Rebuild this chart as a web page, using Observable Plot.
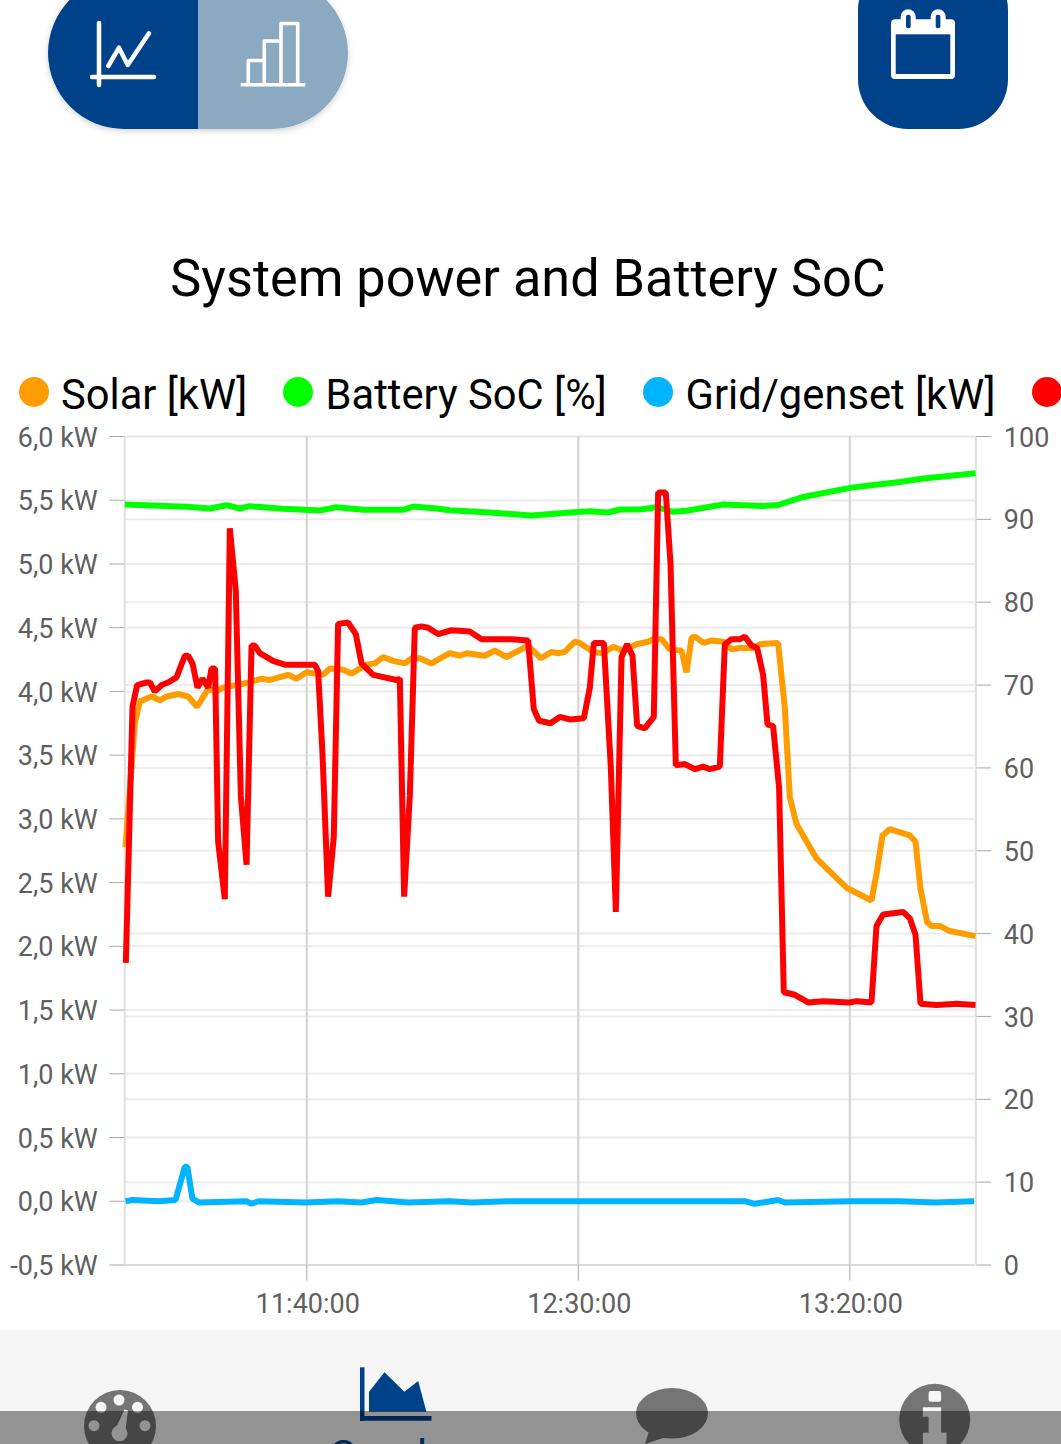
<!DOCTYPE html>
<html>
<head>
<meta charset="utf-8">
<script src="https://cdn.jsdelivr.net/npm/d3@7"></script>
<script src="https://cdn.jsdelivr.net/npm/@observablehq/plot@0.6"></script>
<style>
html,body{margin:0;padding:0;background:#fff;width:1061px;height:1444px;overflow:hidden}
#page{position:relative;width:1061px;height:1444px;overflow:hidden;font-family:Roboto,sans-serif}
#title{position:absolute;left:0;width:1056px;top:249px;text-align:center;font-size:52.2px;line-height:60px;color:#000}
.lg{position:absolute;top:370px;font-size:41.7px;line-height:50px;color:#000;white-space:nowrap}
.dot{position:absolute;top:377px;width:30px;height:30px;border-radius:50%}
#chart{position:absolute;left:0;top:420px}
#nav{position:absolute;left:0;top:1330px;width:1061px;height:114px;background:#f6f6f6}
#ui{position:absolute;left:0;top:0}
#scrim{position:absolute;left:0;top:1411px;width:1061px;height:33px;background:rgba(0,0,0,.4)}
</style>
</head>
<body>
<div id="page">
  <div id="nav"></div>
  <svg id="ui" width="1061" height="1444" viewBox="0 0 1061 1444">
    <defs>
      <filter id="sh" x="-10%" y="-10%" width="120%" height="125%"><feDropShadow dx="0" dy="2" stdDeviation="3" flood-color="#000" flood-opacity=".18"/></filter>
      <clipPath id="pl"><rect x="48" y="-23" width="150" height="152"/></clipPath>
      <clipPath id="pr"><rect x="198" y="-23" width="150" height="152"/></clipPath>
    </defs>
    <rect x="48" y="-23" width="300" height="152" rx="76" fill="#fff" filter="url(#sh)"/>
    <rect x="48" y="-23" width="300" height="152" rx="76" fill="#00428a" clip-path="url(#pl)"/>
    <rect x="48" y="-23" width="300" height="152" rx="76" fill="#8ba9c1" clip-path="url(#pr)"/>
    <g fill="none" stroke="#fff" stroke-width="4.5" stroke-linecap="round" stroke-linejoin="round">
      <path d="M99 23V85M92 77H154"/>
      <path d="M108.3 66L119 47.7L127.7 65L149 33.3"/>
    </g>
    <g fill="none" stroke="#fff" stroke-width="3.6">
      <path d="M240.7 84.7H305.3"/>
      <path d="M248.3 84.7V60.5H264.3V84.7M264.3 60.5V41H281V84.7M281 41V23.5H297.7V84.7" stroke-linejoin="round"/>
    </g>
    <rect x="858" y="-40" width="150" height="169" rx="50" fill="#00428a"/>
    <g fill="#fff">
      <rect x="891" y="19.3" width="64" height="59.7" rx="4"/>
      <rect x="900.7" y="9.3" width="15" height="20" rx="7.5"/>
      <rect x="930.7" y="9.3" width="15" height="20" rx="7.5"/>
    </g>
    <g fill="#00428a">
      <rect x="895.7" y="34.3" width="54.6" height="39.7"/>
      <rect x="906" y="14.7" width="4.7" height="13.6" rx="2"/>
      <rect x="935.7" y="14.7" width="4.7" height="13.6" rx="2"/>
    </g>
    <circle cx="120" cy="1426" r="36" fill="#757575"/>
    <g fill="#f6f6f6">
      <circle cx="119" cy="1400" r="5.5"/><circle cx="101" cy="1407.3" r="5.5"/><circle cx="137.5" cy="1407.3" r="5.5"/>
      <circle cx="94" cy="1425.7" r="5.5"/><circle cx="145" cy="1425.7" r="5.5"/><circle cx="119.5" cy="1433.3" r="8"/>
      <path d="M115 1430L124.5 1409.5L128 1410.5L125 1433Z"/>
    </g>
    <g fill="#00428a">
      <rect x="360" y="1367.3" width="4.5" height="53.4"/>
      <rect x="360" y="1416" width="71.5" height="4.7"/>
      <path d="M369 1391.7L384.5 1372.3L404.4 1391.7L418.2 1381L426.4 1411.7H369Z"/>
    </g>
    <text x="384.5" y="1469.5" text-anchor="middle" font-size="42" fill="#00428a" font-family="Roboto">Graph</text>
    <ellipse cx="672" cy="1413.3" rx="36" ry="25.3" fill="#757575"/>
    <path d="M649 1431L645 1444L666 1437Z" fill="#757575"/>
    <circle cx="934.7" cy="1419.3" r="35.5" fill="#757575"/>
    <g fill="#f6f6f6">
      <rect x="928.6" y="1391" width="12.5" height="10.7" rx="2"/>
      <path d="M922.9 1407.3H941.1V1432.7H946.6V1444H922.9V1432.7H928.6V1416.7H922.9Z"/>
    </g>
  </svg>
  <div id="title">System power and Battery SoC</div>
  <div id="legend"></div>
  <div id="chart"></div>
  <div id="scrim"></div>
</div>
<script>
// Time axis: minutes after 11:00:00
const xTicks = [40, 90, 140];
const xTickLabels = ["11:40:00", "12:30:00", "13:20:00"];
const kwTicks = [-0.5, 0, 0.5, 1, 1.5, 2, 2.5, 3, 3.5, 4, 4.5, 5, 5.5, 6];
const socTicks = [0, 10, 20, 30, 40, 50, 60, 70, 80, 90, 100];
const xDomain = [6.48, 163.2];
const kwDomain = [-0.5, 6];

const seriesNames = ["Solar [kW]", "Battery SoC [%]", "Grid/genset [kW]", ""];
const seriesColors = ["#ff9c00", "#00ff00", "#00b4ff", "#ff0000"];

const solarT = [6.61,8.32,9.25,11.40,12.93,14.16,16.30,18.14,19.80,21.82,23.37,24.59,28.27,31.66,33.19,36.56,38.10,39.94,43.0,44.24,46.69,48.23,50.99,52.52,54.05,55.89,58.05,59.28,60.81,62.96,66.33,68.18,69.41,72.78,74.62,76.78,80.75,83.09,85.06,86.28,87.51,89.35,90.28,92.73,94.57,96.41,98.25,100.72,102.85,103.77,105.32,106.85,109.0,109.93,110.85,111.45,113.11,114.53,116.67,118.21,119.74,122.19,123.42,126.79,128.03,128.95,130.18,131.40,133.86,136.0,139.39,143.99,144.91,146.02,147.36,151.05,152.10,153.02,154.23,155.05,156.57,158.41,163.15];
const solarKw = [2.78,3.75,3.92,3.96,3.93,3.96,3.98,3.96,3.88,4.02,4.00,4.03,4.06,4.10,4.09,4.13,4.10,4.15,4.13,4.18,4.17,4.14,4.21,4.22,4.27,4.24,4.22,4.26,4.26,4.22,4.30,4.28,4.30,4.28,4.32,4.27,4.36,4.26,4.31,4.30,4.31,4.39,4.38,4.31,4.30,4.35,4.32,4.37,4.39,4.41,4.41,4.33,4.32,4.15,4.42,4.43,4.38,4.40,4.39,4.33,4.34,4.34,4.37,4.38,3.87,3.17,2.96,2.87,2.69,2.60,2.46,2.36,2.57,2.87,2.92,2.87,2.82,2.45,2.19,2.16,2.16,2.12,2.08];

const socT = [6.48,17.85,22.14,25.21,27.66,29.5,35.64,42.39,45.47,50.37,57.73,59.58,63.89,66.33,73.70,81.38,89.04,92.12,95.49,97.64,101.33,104.40,107.46,109.93,116.67,124.03,126.79,131.40,140,144.29,149.21,153.5,163.15];
const socPct = [91.79,91.51,91.31,91.71,91.31,91.59,91.27,91.07,91.47,91.15,91.15,91.55,91.31,91.10,90.83,90.46,90.86,90.98,90.83,91.19,91.19,91.47,90.91,91.03,91.79,91.61,91.73,92.70,93.80,94.15,94.51,94.94,95.56];

const gridT = [6.61,7.85,12.71,15.82,17.53,18.0,18.93,20.17,28.88,29.82,31.05,39.76,45.67,50.04,52.84,58.75,66.2,70.57,76.8,89.17,102.25,110.9,120.84,122.45,126.79,128.03,140.18,149.21,155.73,162.89];
const gridKw = [0,0.01,0,0.01,0.27,0.27,0.02,-0.01,0,-0.02,0,-0.01,0,-0.01,0.01,-0.01,0,-0.01,0,0,0,0,0,-0.02,0.01,-0.01,0,0,-0.01,0];

const consT = [6.67,7.90,8.75,10.48,11.09,12.01,13.24,14.46,16.0,17.53,18.14,18.95,19.87,20.79,21.82,22.45,23.11,23.67,24.90,25.82,26.92,27.85,28.90,29.82,30.42,31.34,33.79,35.95,41.47,42.08,42.89,43.92,44.97,45.76,47.61,49.02,50.07,52.21,56.52,57.13,57.92,58.97,59.89,61.12,62.34,64.18,66.65,70.02,72.17,77.70,80.75,81.80,82.78,84.88,86.59,88.43,91.01,92.12,92.85,94.70,95.98,96.91,97.96,98.99,99.98,100.83,102.25,103.90,104.70,106.11,106.98,107.96,109.61,111.45,112.98,114.22,116.06,116.98,118.21,119.74,120.66,121.90,122.93,124.03,124.84,125.87,126.98,127.84,129.87,132.32,135.08,140.0,141.23,143.99,144.91,146.13,149.82,151.05,152.10,153.02,155.97,159.65,163.15];
const consKw = [1.87,3.88,4.05,4.07,4.07,4.00,4.05,4.07,4.11,4.28,4.28,4.22,4.03,4.10,4.03,4.18,4.18,2.82,2.37,5.28,4.79,3.18,2.64,4.36,4.36,4.30,4.24,4.21,4.21,4.16,3.51,2.39,2.86,4.53,4.54,4.45,4.22,4.13,4.09,4.10,2.39,3.18,4.50,4.51,4.50,4.45,4.48,4.47,4.41,4.41,4.40,3.86,3.77,3.75,3.80,3.78,3.79,4.03,4.38,4.38,3.41,2.27,4.27,4.37,4.28,3.73,3.71,3.80,5.56,5.56,5.00,3.42,3.43,3.39,3.41,3.39,3.41,4.37,4.41,4.41,4.43,4.36,4.34,4.13,3.74,3.73,3.24,1.64,1.62,1.56,1.57,1.56,1.57,1.56,2.16,2.25,2.27,2.22,2.09,1.55,1.54,1.55,1.54];

// The right axis shares the plot height: 0–100 % spans the same range as -0.5–6 kW
const socToKw = s => kwDomain[0] + s * (kwDomain[1] - kwDomain[0]) / 100;
const table = (ts, vs, f = v => v) => ts.map((t, i) => ({t, v: f(vs[i])}));
const kwLabel = d => d.toFixed(1).replace(".", ",") + " kW";
const socLabel = v => String(Math.round((v - kwDomain[0]) * 100 / (kwDomain[1] - kwDomain[0])));
const socKwTicks = socTicks.map(socToKw);

const lineStyle = {x: "t", y: "v", strokeWidth: 6, strokeLinejoin: "bevel", strokeLinecap: "butt", curve: "linear"};
const tickStyle = {label: null, stroke: "#aaa", tickFormat: () => ""};
const textStyle = {label: null, tickSize: 0, fill: "#5f5f5f"};

const plot = Plot.plot({
  width: 1061, height: 910,
  marginLeft: 124.3, marginRight: 85.7, marginTop: 16, marginBottom: 65.5,
  style: {fontFamily: "Roboto, sans-serif", fontSize: "27px", background: "transparent"},
  x: {domain: xDomain},
  y: {domain: kwDomain},
  marks: [
    Plot.ruleY(socKwTicks, {stroke: "#ececec", strokeWidth: 2}),
    Plot.ruleY(kwTicks, {stroke: "#ececec", strokeWidth: 2}),
    Plot.ruleX(xTicks, {stroke: "#d2d2d2", strokeWidth: 2}),
    Plot.ruleX(xDomain, {stroke: "#e0e0e0", strokeWidth: 2}),
    Plot.ruleY([kwDomain[0]], {stroke: "#dcdcdc", strokeWidth: 2}),
    Plot.axisY({...tickStyle, ticks: kwTicks, anchor: "left", tickSize: 15}),
    Plot.axisY({...textStyle, ticks: kwTicks, anchor: "left", tickPadding: 27, dy: 1.5, tickFormat: kwLabel}),
    Plot.axisY({...tickStyle, ticks: socKwTicks, anchor: "right", tickSize: 15}),
    Plot.axisY({...textStyle, ticks: socKwTicks, anchor: "right", tickPadding: 28, dy: 1.5, tickFormat: socLabel}),
    Plot.axisX({...tickStyle, ticks: xTicks, anchor: "bottom", tickSize: 16}),
    Plot.axisX({...textStyle, ticks: xTicks, anchor: "bottom", tickPadding: 29, dx: 1, tickFormat: d => xTickLabels[xTicks.indexOf(d)]}),
    Plot.line(table(solarT, solarKw), {...lineStyle, stroke: seriesColors[0]}),
    Plot.line(table(socT, socPct, socToKw), {...lineStyle, stroke: seriesColors[1]}),
    Plot.line(table(gridT, gridKw), {...lineStyle, stroke: seriesColors[2]}),
    Plot.line(table(consT, consKw), {...lineStyle, stroke: seriesColors[3]})
  ]
});
document.getElementById("chart").appendChild(plot);

// Legend; the fourth entry is clipped by the right edge, only its dot shows
const legendDotX = [19, 283, 643, 1032];
const legendTextX = [61, 325.5, 685.5, 1075];
const legend = document.getElementById("legend");
seriesNames.forEach((name, i) => {
  const dot = document.createElement("div");
  dot.className = "dot";
  dot.style.left = legendDotX[i] + "px";
  dot.style.background = seriesColors[i];
  legend.appendChild(dot);
  if (!name) return;
  const label = document.createElement("div");
  label.className = "lg";
  label.style.left = legendTextX[i] + "px";
  label.textContent = name;
  legend.appendChild(label);
});
</script>
</body>
</html>
